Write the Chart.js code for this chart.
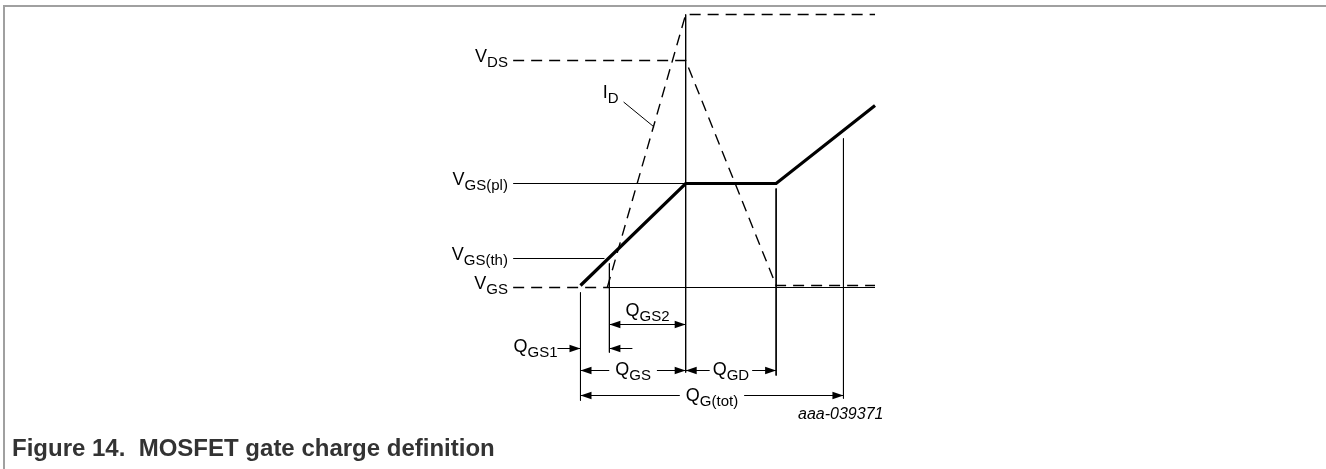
<!DOCTYPE html>
<html>
<head>
<meta charset="utf-8">
<script src="https://cdn.jsdelivr.net/npm/chart.js@4.4.1/dist/chart.umd.min.js"></script>
<style>
  html, body { margin: 0; padding: 0; background: #fff; }
  #wrap { width: 1326px; height: 469px; }
</style>
</head>
<body>
<div id="wrap"><canvas id="myChart" width="1326" height="469"></canvas></div>
<script>
// gate charge (x) and voltage (y) in arbitrary units, 0 = start of turn-on
const levelNames = [["V", "DS"], ["V", "GS(pl)"], ["V", "GS(th)"], ["V", "GS"]];
const levelValues = [22.7, 10.4, 2.9, 0];

// Q0, end of QGS1, end of QGS, end of QGD, QG(tot)
const chargeBounds = [0, 2.75, 10, 18.6, 25];

const vgsQ = [0, 10, 18.6, 28];
const vgsV = [0.2, 10.4, 10.4, 18.2];
const vdsQ = [-6.4, 10, 18.6, 28];
const vdsV = [22.7, 22.7, 0.2, 0.2];
const idQ = [2.55, 10, 28];
const idV = [0, 27.3, 27.3];

// vertical extension lines: [charge, top, bottom]
const extLines = [
  [0, -0.5, -11.3],
  [2.75, 2.4, -6.5],
  [10, 27.3, -8.5],
  [18.6, 9.9, -8.8],
  [25, 14.9, -11.1]
];

const FONT = '"Liberation Sans", Arial, sans-serif';
const leaderStart = -6.4;
const labelRight = -6.9;

function pts(q, v) {
  return q.map((x, i) => ({ x: x, y: v[i] }));
}
function seg(q, v, extra) {
  return Object.assign({
    data: pts(q, v),
    showLine: true,
    borderColor: "#000",
    borderWidth: 1,
    pointRadius: 0,
    fill: false,
    tension: 0,
    clip: false
  }, extra || {});
}

const dash = [11, 7];
const datasets = [
  seg(vgsQ, vgsV, { borderWidth: 3.2 }),
  seg(vdsQ, vdsV, { borderDash: dash, borderWidth: 1.4 }),
  seg(idQ, idV, { borderDash: dash, borderWidth: 1.4 }),
  seg([leaderStart, 10], [levelValues[1], levelValues[1]]),
  seg([leaderStart, 2.28], [levelValues[2], levelValues[2]]),
  seg([leaderStart, chargeBounds[1]], [0, 0], { borderDash: dash, borderWidth: 1.4 }),
  seg([chargeBounds[1], 28], [0, 0]),
  seg([4.1, 7.0], [18.55, 16.05])
];
extLines.forEach(l => datasets.push(seg([l[0], l[0]], [l[1], l[2]])));

function drawSub(ctx, main, sub, x, y, align) {
  ctx.font = "18px " + FONT;
  const wm = ctx.measureText(main).width;
  ctx.font = "15px " + FONT;
  const ws = ctx.measureText(sub).width;
  const w = wm + ws;
  let x0 = x;
  if (align === "right") x0 = x - w;
  if (align === "center") x0 = x - w / 2;
  return { x0: x0, w: w, draw: function () {
    ctx.textAlign = "left";
    ctx.fillStyle = "#000";
    ctx.font = "18px " + FONT;
    ctx.fillText(main, x0, y);
    ctx.font = "15px " + FONT;
    ctx.fillText(sub, x0 + wm, y + 5);
  } };
}

function head(ctx, xt, y, dir) {
  ctx.beginPath();
  ctx.moveTo(xt, y);
  ctx.lineTo(xt - 11 * dir, y - 3.8);
  ctx.lineTo(xt - 11 * dir, y + 3.8);
  ctx.closePath();
  ctx.fill();
}

const diagramText = {
  id: "diagramText",
  beforeDraw(chart) {
    const ctx = chart.ctx;
    ctx.save();
    ctx.fillStyle = "#a0a0a0";
    ctx.fillRect(3, 5, 1323, 2);
    ctx.fillRect(3, 5, 2, 464);
    ctx.restore();
  },
  afterDatasetsDraw(chart) {
    const ctx = chart.ctx;
    const xs = chart.scales.x, ys = chart.scales.y;
    const px = v => xs.getPixelForValue(v);
    const py = v => ys.getPixelForValue(v);
    ctx.save();
    ctx.textBaseline = "alphabetic";

    // level labels on the left
    levelNames.forEach((n, i) => {
      drawSub(ctx, n[0], n[1], px(labelRight), py(levelValues[i]) + 1, "right").draw();
    });

    // I_D label with leader
    drawSub(ctx, "I", "D", px(4.1) - 5, py(18.55) - 4, "right").draw();

    ctx.fillStyle = "#000";
    ctx.strokeStyle = "#000";
    ctx.lineWidth = 1;
    const hline = (a, b, y) => {
      ctx.beginPath();
      ctx.moveTo(a, y);
      ctx.lineTo(b, y);
      ctx.stroke();
    };

    // Q_GS2
    let y = Math.round(py(-3.6)) + 0.5;
    hline(px(chargeBounds[1]), px(chargeBounds[2]), y);
    head(ctx, px(chargeBounds[1]), y, -1);
    head(ctx, px(chargeBounds[2]), y, 1);
    drawSub(ctx, "Q", "GS2", (px(chargeBounds[1]) + px(chargeBounds[2])) / 2, y - 9, "center").draw();

    // Q_GS1
    y = Math.round(py(-6.0)) + 0.5;
    hline(px(chargeBounds[0]) - 23, px(chargeBounds[0]), y);
    head(ctx, px(chargeBounds[0]), y, 1);
    hline(px(chargeBounds[1]), px(chargeBounds[1]) + 23, y);
    head(ctx, px(chargeBounds[1]), y, -1);
    drawSub(ctx, "Q", "GS1", px(chargeBounds[0]) - 23, y + 3, "right").draw();

    // inline dimension labels
    const inline = (a, b, yv, main, sub, drop, gap) => {
      const yy = Math.round(py(yv)) + 0.5;
      const xa = px(a), xb = px(b);
      hline(xa, xb, yy);
      const t = drawSub(ctx, main, sub, (xa + xb) / 2, yy + drop, "center");
      ctx.fillStyle = "#fff";
      ctx.fillRect(t.x0 - gap, yy - 3, t.w + 2 * gap, 6);
      t.draw();
      ctx.fillStyle = "#000";
      head(ctx, xa, yy, -1);
      head(ctx, xb, yy, 1);
    };
    inline(chargeBounds[0], chargeBounds[2], -8.2, "Q", "GS", 4, 6);
    inline(chargeBounds[2], chargeBounds[3], -8.2, "Q", "GD", 4, 3);
    inline(chargeBounds[0], chargeBounds[4], -10.7, "Q", "G(tot)", 5, 6);

    // figure id
    ctx.font = "italic 16px " + FONT;
    ctx.textAlign = "right";
    ctx.fillStyle = "#000";
    ctx.fillText("aaa-039371", px(chargeBounds[4]) + 40, py(-10.7) + 24);

    // caption
    ctx.font = "bold 24px " + FONT;
    ctx.textAlign = "left";
    ctx.fillStyle = "#333";
    ctx.fillText("Figure 14.  MOSFET gate charge definition", 12, 456);
    ctx.restore();
  }
};

new Chart(document.getElementById("myChart"), {
  type: "scatter",
  data: { datasets: datasets },
  options: {
    responsive: false,
    animation: false,
    events: [],
    layout: { padding: 0 },
    plugins: { legend: { display: false }, tooltip: { enabled: false } },
    scales: {
      x: { type: "linear", min: -55.18, max: 70.87, display: false },
      y: { type: "linear", min: -18.15, max: 28.75, display: false }
    }
  },
  plugins: [diagramText]
});
</script>
</body>
</html>
